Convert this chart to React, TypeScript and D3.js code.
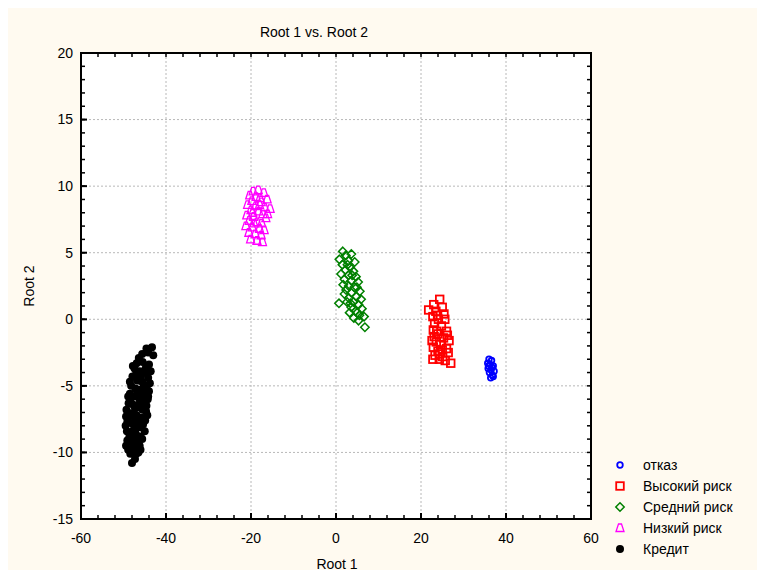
import React, { useEffect } from "react";
import * as d3 from "d3";

type P = [number, number];

const xTicks = [-60, -40, -20, 0, 20, 40, 60];
const yTicks = [-15, -10, -5, 0, 5, 10, 15, 20];

const otkaz: P[] = [
  [36.0, -3.0], [36.6, -3.1], [35.7, -3.3], [36.3, -3.4], [37.0, -3.5], [35.8, -3.7],
  [36.5, -3.8], [37.2, -3.9], [36.1, -4.0], [36.8, -4.2], [36.4, -4.4], [37.0, -4.3],
  [35.9, -3.5], [36.7, -3.6],
];

const vysokiy: P[] = [
  [24.4, 1.5], [23.0, 1.1], [25.0, 0.9], [21.8, 0.7], [23.5, 0.6], [25.4, 0.4], [22.8, 0.2],
  [24.1, 0.0], [23.2, -0.3], [24.8, -0.5], [22.9, -0.8], [26.0, -0.9], [24.0, -1.1],
  [23.1, -1.3], [25.3, -1.4], [26.6, -1.6], [23.6, -1.7], [24.6, -1.9], [22.9, -2.1],
  [26.0, -2.2], [24.0, -2.4], [26.4, -2.5], [23.3, -2.7], [25.1, -2.8], [24.3, -3.0],
  [22.8, -3.0], [27.0, -3.3], [25.7, -3.1], [23.7, -0.9], [25.0, -2.3], [26.2, -1.2],
  [23.9, 0.3], [22.6, -1.6], [25.6, 0.0], [24.4, -2.6],
];

const sredniy: P[] = [
  [1.6, 5.1], [3.6, 4.9], [2.3, 4.8], [0.8, 4.5], [2.9, 4.4], [4.4, 4.3], [1.5, 4.1],
  [3.3, 3.9], [2.2, 3.7], [4.1, 3.6], [1.2, 3.4], [2.9, 3.3], [4.7, 3.2], [2.0, 3.0],
  [3.6, 2.9], [5.2, 2.8], [1.7, 2.6], [3.0, 2.5], [4.3, 2.4], [2.4, 2.2], [5.6, 2.1],
  [3.6, 2.0], [2.0, 1.9], [4.8, 1.7], [3.0, 1.6], [5.9, 1.5], [4.1, 1.3], [2.6, 1.3],
  [5.3, 1.1], [3.6, 0.9], [6.1, 0.8], [4.6, 0.6], [3.2, 0.5], [5.5, 0.3], [6.6, 0.2],
  [4.2, 0.1], [5.3, -0.1], [6.8, -0.6], [0.7, 1.2], [2.7, 4.1], [3.8, 3.3], [4.9, 2.4],
  [3.4, 1.2], [5.0, 0.5],
];

const nizkiy: P[] = [
  [-19.5, 9.6], [-18.3, 9.7], [-17.0, 9.5], [-20.3, 9.3], [-18.8, 9.2], [-16.2, 9.0],
  [-19.8, 8.9], [-17.6, 8.8], [-20.8, 8.6], [-18.9, 8.5], [-16.8, 8.4], [-15.5, 8.3],
  [-20.0, 8.2], [-18.2, 8.1], [-17.2, 7.9], [-21.0, 7.8], [-19.4, 7.7], [-16.5, 7.6],
  [-20.4, 7.4], [-18.6, 7.3], [-17.5, 7.2], [-21.2, 7.0], [-19.7, 6.9], [-18.0, 6.8],
  [-16.9, 6.7], [-20.5, 6.5], [-19.0, 6.4], [-17.6, 6.3], [-20.1, 6.0], [-18.6, 5.9],
  [-17.3, 5.8], [-19.3, 7.2], [-18.0, 8.6], [-17.9, 9.1], [-19.6, 8.0], [-16.1, 7.9],
];

const kredit: P[] = [
  [-43.3, -2.1], [-43.0, -2.7], [-44.2, -2.5], [-46.4, -2.9], [-45.5, -3.2], [-44.0, -3.4],
  [-43.6, -3.9], [-47.4, -3.7], [-46.2, -3.9], [-45.0, -4.0], [-44.2, -4.4], [-47.9, -4.3],
  [-46.8, -4.6], [-45.6, -4.7], [-44.5, -5.0], [-48.2, -5.0], [-47.2, -5.2], [-46.1, -5.3],
  [-45.0, -5.6], [-48.5, -5.6], [-47.5, -5.8], [-46.4, -5.9], [-45.2, -6.1], [-44.6, -6.5],
  [-48.8, -6.3], [-47.8, -6.4], [-46.6, -6.6], [-45.5, -6.8], [-49.0, -7.0], [-48.0, -7.1],
  [-46.9, -7.2], [-45.7, -7.4], [-44.9, -7.6], [-49.1, -7.7], [-48.1, -7.8], [-47.0, -7.9],
  [-45.9, -8.1], [-49.2, -8.4], [-48.2, -8.5], [-47.1, -8.6], [-46.0, -8.8], [-49.1, -9.1],
  [-48.1, -9.2], [-47.0, -9.3], [-46.2, -9.5], [-48.9, -9.8], [-47.8, -9.9], [-47.0, -10.1],
  [-48.0, -10.8], [-44.8, -3.7], [-45.9, -4.3], [-47.0, -4.1], [-45.3, -5.1], [-46.8, -5.6],
  [-44.2, -5.8], [-47.3, -6.7], [-45.9, -6.3], [-46.3, -7.6], [-48.6, -7.3], [-47.6, -8.3],
  [-46.5, -9.0], [-48.6, -8.8], [-45.4, -7.9], [-44.7, -6.9], [-49.3, -6.8], [-48.4, -6.0],
  [-47.6, -9.6], [-43.8, -4.8], [-44.0, -5.4], [-44.3, -6.0], [-44.4, -7.2], [-45.0, -8.4],
  [-45.6, -9.0], [-46.0, -9.8], [-49.4, -9.5], [-49.5, -8.0], [-49.4, -7.3], [-48.9, -5.8],
  [-48.5, -4.7], [-47.8, -3.5], [-46.9, -3.3], [-45.6, -2.6], [-44.6, -2.2], [-46.3, -4.6],
  [-45.7, -5.6], [-46.2, -6.3], [-47.2, -7.4], [-46.8, -8.1], [-47.9, -9.0], [-48.4, -10.1],
  [-47.3, -10.5], [-46.5, -10.0],
];

const seriesNames = ["отказ", "Высокий риск", "Средний риск", "Низкий риск", "Кредит"];
const seriesColors = ["#0000ff", "#ff0000", "#008000", "#ff00ff", "#000000"];
const seriesShapes = ["circle", "square", "diamond", "triangle", "dot"];
const seriesData = [otkaz, vysokiy, sredniy, nizkiy, kredit];

const W = 757;
const H = 570;
const L = 73, R = 583, T = 45, B = 511;
const FONT = "'Liberation Sans', Arial, sans-serif";

function Marker({ shape, color, x, y }: { shape: string; color: string; x: number; y: number }) {
  if (shape === "circle")
    return <circle cx={x} cy={y} r={2.8} fill="none" stroke={color} strokeWidth={1.8} />;
  if (shape === "square")
    return <rect x={x - 3.8} y={y - 3.8} width={7.6} height={7.6} fill="none" stroke={color} strokeWidth={1.8} />;
  if (shape === "diamond")
    return (
      <path d={`M${x},${y - 4.2}L${x + 4.2},${y}L${x},${y + 4.2}L${x - 4.2},${y}Z`} fill="none" stroke={color} strokeWidth={1.5} />
    );
  if (shape === "triangle")
    return (
      <path d={`M${x - 1.5},${y - 4}L${x + 1.5},${y - 4}L${x + 4},${y + 3.5}L${x - 4},${y + 3.5}Z`} fill="none" stroke={color} strokeWidth={1.3} />
    );
  return <circle cx={x} cy={y} r={4} fill={color} stroke="none" />;
}

export default function App() {
  useEffect(() => {
    document.body.style.overflow = "hidden";
  }, []);
  const x = d3.scaleLinear().domain([-60, 60]).range([L, R]);
  const y = d3.scaleLinear().domain([-15, 20]).range([B, T]);
  const xMinor = d3.range(-60, 60.01, 4);
  const yMinor = d3.range(-15, 20.01, 1);

  return (
    <svg width={W} height={H} style={{ display: "block", marginBottom: -8 }} fontFamily={FONT}>
      <rect x={0} y={0} width={W} height={H} fill="#fffaf0" />
      <rect x={L} y={T} width={R - L} height={B - T} fill="#ffffff" />
      {xTicks.filter((t) => t > -60 && t < 60).map((t) => (
        <line key={"gx" + t} x1={x(t)} x2={x(t)} y1={T} y2={B} stroke="#b8b8b8" strokeWidth={1} strokeDasharray="2,2" />
      ))}
      {yTicks.filter((t) => t > -15 && t < 20).map((t) => (
        <line key={"gy" + t} x1={L} x2={R} y1={y(t)} y2={y(t)} stroke="#b8b8b8" strokeWidth={1} strokeDasharray="2,2" />
      ))}
      {seriesData.map((data, si) => (
        <g key={"s" + si}>
          {data.map((p, i) => (
            <Marker key={i} shape={seriesShapes[si]} color={seriesColors[si]} x={x(p[0])} y={y(p[1])} />
          ))}
        </g>
      ))}
      {xMinor.map((t) => (
        <g key={"mx" + t}>
          <line x1={x(t)} x2={x(t)} y1={B} y2={B - 4} stroke="#000" strokeWidth={1.5} />
          <line x1={x(t)} x2={x(t)} y1={T} y2={T + 4} stroke="#000" strokeWidth={1.5} />
        </g>
      ))}
      {yMinor.map((t) => (
        <g key={"my" + t}>
          <line x1={L} x2={L + 4} y1={y(t)} y2={y(t)} stroke="#000" strokeWidth={1.5} />
          <line x1={R} x2={R - 4} y1={y(t)} y2={y(t)} stroke="#000" strokeWidth={1.5} />
        </g>
      ))}
      {xTicks.map((t) => (
        <line key={"Mx" + t} x1={x(t)} x2={x(t)} y1={B} y2={B - 6} stroke="#000" strokeWidth={2} />
      ))}
      {yTicks.map((t) => (
        <line key={"My" + t} x1={L} x2={L + 6} y1={y(t)} y2={y(t)} stroke="#000" strokeWidth={2} />
      ))}
      <rect x={L} y={T} width={R - L} height={B - T} fill="none" stroke="#000" strokeWidth={2} />
      {xTicks.map((t) => (
        <text key={"lx" + t} x={x(t)} y={535} textAnchor="middle" fontSize={14} fill="#000">
          {t}
        </text>
      ))}
      {yTicks.map((t) => (
        <text key={"ly" + t} x={L - 8} y={y(t)} dy="0.35em" textAnchor="end" fontSize={14} fill="#000">
          {t}
        </text>
      ))}
      <text x={306} y={29} textAnchor="middle" fontSize={14} fill="#000">
        Root 1 vs. Root 2
      </text>
      <text x={329} y={561} textAnchor="middle" fontSize={14} fill="#000">
        Root 1
      </text>
      <text transform={`translate(26,${(T + B) / 2}) rotate(-90)`} textAnchor="middle" fontSize={14} fill="#000">
        Root 2
      </text>
      {seriesNames.map((n, i) => {
        const ly = 457 + i * 21;
        return (
          <g key={"lg" + i}>
            <Marker shape={seriesShapes[i]} color={seriesColors[i]} x={612} y={ly} />
            <text x={635} y={ly} dy="0.35em" fontSize={14} fill="#000">
              {n}
            </text>
          </g>
        );
      })}
    </svg>
  );
}
